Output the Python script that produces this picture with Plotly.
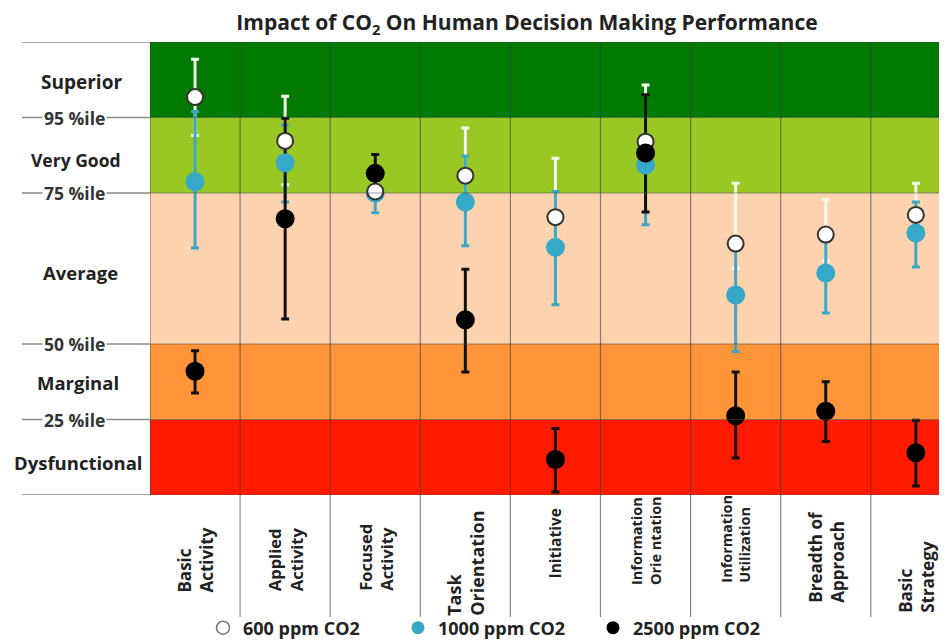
import plotly.graph_objects as go

# ---------------- data ----------------
categories = ["Basic<br>Activity", "Applied<br>Activity", "Focused<br>Activity",
              "Task<br>Orientation", "Initiative", "Information<br>Orie ntation",
              "Information<br>Utilization", "Breadth of<br>Approach", "Basic<br>Strategy"]

# performance score on a 0-6 scale (0-1 Dysfunctional, 1-2 Marginal, 2-4 Average,
# 4-5 Very Good, 5-6 Superior)
ppm600_mean = [5.27, 4.69, 4.02, 4.23, 3.68, 4.68, 3.33, 3.45, 3.71]
ppm600_high = [5.77, 5.28, 4.12, 4.86, 4.46, 5.43, 4.13, 3.91, 4.13]
ppm600_low = [4.76, 4.11, 3.92, 3.90, 3.30, 4.30, 3.00, 3.10, 3.50]

ppm1000_mean = [4.15, 4.40, 4.00, 3.88, 3.28, 4.37, 2.65, 2.94, 3.47]
ppm1000_high = [5.08, 4.90, 4.20, 4.49, 4.02, 4.70, 3.40, 3.45, 3.88]
ppm1000_low = [3.27, 3.88, 3.74, 3.30, 2.52, 3.58, 1.90, 2.41, 3.02]

ppm2500_mean = [1.64, 3.66, 4.26, 2.32, 0.47, 4.53, 1.05, 1.11, 0.56]
ppm2500_high = [1.91, 4.99, 4.51, 2.99, 0.88, 5.30, 1.63, 1.50, 0.99]
ppm2500_low = [1.35, 2.33, 4.00, 1.63, 0.04, 3.75, 0.49, 0.71, 0.12]

series_names = ["600 ppm CO2", "1000 ppm CO2", "2500 ppm CO2"]

band_names = ["Dysfunctional", "Marginal", "Average", "Very Good", "Superior"]
band_edges = [0, 1, 2, 4, 5, 6]
percentile_labels = ["25 %ile", "50 %ile", "75 %ile", "95 %ile"]
percentile_levels = [1, 2, 4, 5]

# ---------------- styling ----------------
OFF = 8                      # page body margin of the html page
W, H = 947 - OFF, 641 - OFF
L, R, T = 150 - OFF, 0, 42 - OFF
PLOT_BOTTOM = 495 - OFF
B = H - PLOT_BOTTOM
PW, PH = W - L - R, PLOT_BOTTOM - T
band_colors = ["#FF1A00", "#FF9538", "#FDD3AF", "#99C724", "#007A00"]
FONT = "'Open Sans', Lato, sans-serif"
n = len(categories)
xs = list(range(n))
col_w = 90.1
xmax = -0.5 + PW / col_w


def py(p):  # screenshot pixel y -> paper y
    return (495 - p) / PH


def px(p):  # screenshot pixel x -> paper x
    return (p - 150) / PW


fig = go.Figure()

series = [
    (ppm600_mean, ppm600_high, ppm600_low, "#F4F8EC", dict(color="white", size=16, line=dict(color="#333333", width=2))),
    (ppm1000_mean, ppm1000_high, ppm1000_low, "#3BA9C6", dict(color="#36A8C8", size=19, line=dict(width=0))),
    (ppm2500_mean, ppm2500_high, ppm2500_low, "#111111", dict(color="black", size=19, line=dict(width=0))),
]

# error bars first (white, blue, black)
for mean, hi, lo, ec, mk in series:
    fig.add_trace(go.Scatter(
        x=xs, y=mean, mode="markers", showlegend=False, hoverinfo="skip",
        marker=dict(size=1, color="rgba(0,0,0,0)"),
        error_y=dict(type="data", symmetric=False,
                     array=[h - m for h, m in zip(hi, mean)],
                     arrayminus=[m - l for m, l in zip(mean, lo)],
                     color=ec, thickness=3, width=4)))

# markers: blue, white, black
for idx in [1, 0, 2]:
    mean, hi, lo, ec, mk = series[idx]
    fig.add_trace(go.Scatter(x=xs, y=mean, mode="markers", name=series_names[idx],
                             showlegend=False, marker=mk))

# legend entries
leg_markers = [dict(color="white", size=13, line=dict(color="#777777", width=1.5)),
               dict(color="#36A8C8", size=13, line=dict(width=0)),
               dict(color="black", size=13, line=dict(width=0))]
for name, mk in zip(series_names, leg_markers):
    fig.add_trace(go.Scatter(x=[None], y=[None], mode="markers", name=name, marker=mk))

shapes = []
for i, c in enumerate(band_colors):
    shapes.append(dict(type="rect", xref="paper", yref="y", x0=0, x1=1,
                       y0=band_edges[i], y1=band_edges[i + 1], fillcolor=c,
                       line=dict(width=0), layer="below"))
for e in band_edges:
    shapes.append(dict(type="line", xref="paper", yref="y", x0=0, x1=1, y0=e, y1=e,
                       line=dict(color="rgba(70,70,70,0.55)", width=1)))
for e in band_edges:
    shapes.append(dict(type="line", xref="paper", yref="y", x0=px(22), x1=0, y0=e, y1=e,
                       line=dict(color="#8A8A8A", width=1.5)))
shapes.append(dict(type="line", xref="x", yref="paper", x0=-0.5, x1=-0.5, y0=0, y1=1,
                   line=dict(color="rgba(50,50,50,0.7)", width=1)))
for i in range(1, n + 1):
    shapes.append(dict(type="line", xref="x", yref="paper", x0=i - 0.5, x1=i - 0.5,
                       y0=py(617), y1=1, line=dict(color="rgba(60,60,60,0.6)", width=1.2)))
fig.update_layout(shapes=shapes)

annotations = []
band_label_pos = [(462, 78, 18.5), (382, 78, 18.5), (272, 80, 18.5), (160, 76, 17.5), (82, 81, 19)]
for name, (yy, xx, fs) in zip(band_names, band_label_pos):
    annotations.append(dict(text="<b>%s</b>" % name, xref="paper", yref="paper",
                            x=px(xx), y=py(yy), showarrow=False, xanchor="center",
                            yanchor="middle", font=dict(family=FONT, size=fs, color="#222222")))
for lab, lev in zip(percentile_labels, percentile_levels):
    annotations.append(dict(text="<b>%s</b>" % lab, xref="paper", yref="y",
                            x=px(74), y=lev, showarrow=False, xanchor="center",
                            yanchor="middle", bgcolor="white", borderpad=1,
                            font=dict(family=FONT, size=17.5, color="#333333")))
label_bottoms = [595, 593, 593, 618, 580, 587, 585, 605, 615]
label_sizes = [17, 16.5, 16.5, 18, 15.5, 14.5, 14.5, 17, 17]
for i, (cat, bot, fs) in enumerate(zip(categories, label_bottoms, label_sizes)):
    annotations.append(dict(text="<b>%s</b>" % cat, xref="x", yref="paper", x=i, y=py(bot),
                            textangle=-90, showarrow=False, align="left",
                            xanchor="center", yanchor="bottom",
                            font=dict(family=FONT, size=fs, color="#222222")))

fig.update_layout(
    width=W, height=H, margin=dict(l=L, r=R, t=T, b=B, autoexpand=False),
    paper_bgcolor="white", plot_bgcolor="white",
    title=dict(text="<b>Impact of CO<sub>2</sub> On Human Decision Making Performance</b>",
               x=(527 - OFF) / W, xref="container", xanchor="center", y=1 - (23 - OFF) / H,
               yanchor="middle", font=dict(family=FONT, size=21, color="#222222")),
    xaxis=dict(range=[-0.5, xmax], visible=False, fixedrange=True),
    yaxis=dict(range=[0, 6], visible=False, fixedrange=True),
    annotations=annotations,
    showlegend=True,
    legend=dict(orientation="h", x=px(203), xanchor="left", y=py(628), yanchor="middle",
                entrywidth=150, itemwidth=30, bgcolor="rgba(0,0,0,0)",
                font=dict(family=FONT, size=18, color="#222222", weight="bold")),
)

fig.write_html("out.html")
